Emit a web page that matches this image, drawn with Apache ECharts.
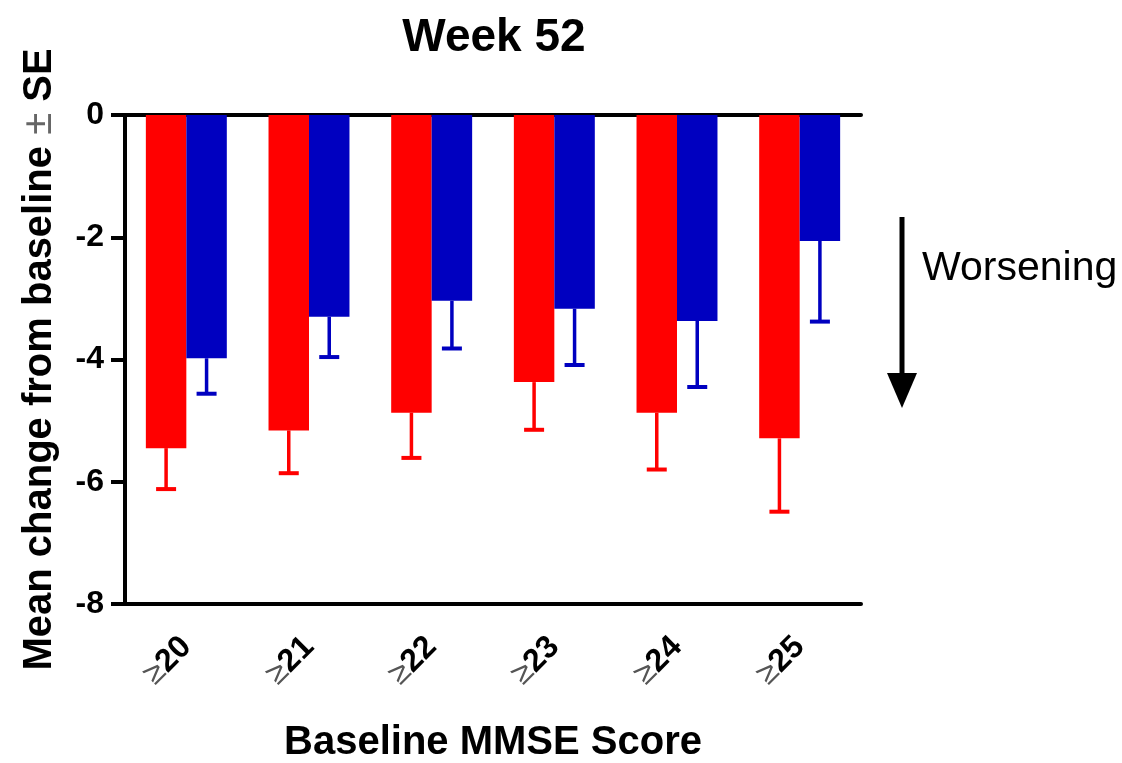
<!DOCTYPE html>
<html><head><meta charset="utf-8">
<script src="https://cdn.jsdelivr.net/npm/echarts@6/dist/echarts.min.js"></script>
<style>html,body{margin:0;padding:0;background:#fff}#c{width:1122px;height:763px}</style>
</head><body><div id="c"></div>
<script>
const categories = ['20','21','22','23','24','25'];
const redMean = [-5.45,-5.16,-4.87,-4.37,-4.87,-5.29];
const redLow  = [-6.12,-5.86,-5.61,-5.15,-5.80,-6.49];
const blueMean = [-3.98,-3.30,-3.04,-3.17,-3.37,-2.06];
const blueLow  = [-4.56,-3.96,-3.82,-4.09,-4.45,-3.38];
const yTicks = [0,-2,-4,-6,-8];

const RED = '#ff0000', BLUE = '#0000c0';
const GAP = 0.34; // barCategoryGap fraction
const FONT = 'Liberation Sans, Arial, sans-serif';

function errSeries(mean, low, color, side){
  return {
    type:'custom', z:3,
    data: mean.map((m,i)=>[i,m,low[i]]),
    renderItem(params, api){
      const i = api.value(0);
      const band = api.size([1,0])[0];
      const bw = band*(1-GAP)/2;
      const top = api.coord([i, api.value(1)]);
      const bot = api.coord([i, api.value(2)]);
      const x = top[0] + side*bw/2;
      return {type:'group', children:[
        {type:'line', shape:{x1:x,y1:top[1],x2:x,y2:bot[1]}, style:{stroke:color,lineWidth:3.5}},
        {type:'line', shape:{x1:x-10,y1:bot[1],x2:x+10,y2:bot[1]}, style:{stroke:color,lineWidth:4}}
      ]};
    }
  };
}

const chart = echarts.init(document.getElementById('c'), null, {renderer:'canvas'});
chart.setOption({
  animation:false,
  backgroundColor:'#fff',
  title:{text:'Week 52', left:489, top:10, textAlign:'center',
    textStyle:{fontFamily:FONT, fontWeight:'bold', fontSize:46, color:'#000'}},
  grid:{left:125, right:261, top:115, bottom:159, outerBoundsMode:'none', containLabel:false},
  xAxis:[{
    type:'category', data:categories, position:'bottom',
    axisLine:{onZero:false, lineStyle:{color:'#000', width:4}},
    axisTick:{alignWithLabel:true, length:15, lineStyle:{width:4,color:'#000'}},
    axisLabel:{rotate:45, interval:0, margin:38,
      formatter:v=>'{g|≥}{n|'+v+'}',
      rich:{
        g:{fontSize:32, fontWeight:'normal', color:'#555', fontFamily:FONT},
        n:{fontSize:32, fontWeight:'bold', color:'#000', fontFamily:FONT}
      }},
    name:'Baseline MMSE Score', nameLocation:'middle', nameGap:119,
    nameTextStyle:{fontSize:40, fontWeight:'bold', color:'#000', fontFamily:FONT}
  },{
    type:'category', data:categories, position:'top',
    axisLine:{onZero:false, lineStyle:{color:'#000', width:4}},
    axisTick:{show:false}, axisLabel:{show:false}
  }],
  yAxis:{
    type:'value', min:-8, max:0, interval:2,
    axisLine:{show:true, lineStyle:{color:'#000', width:4}},
    axisTick:{show:true, length:14, lineStyle:{width:4,color:'#000'}},
    splitLine:{show:false},
    axisLabel:{fontSize:32, fontWeight:'bold', color:'#000', margin:21, fontFamily:FONT,
      formatter:v=> yTicks.includes(v) ? String(v) : ''},
    name:'{b|Mean change from baseline }{g|±}{b| SE}', nameLocation:'middle', nameGap:65, nameRotate:90,
    nameTextStyle:{fontSize:40, fontWeight:'bold', color:'#000', fontFamily:FONT,
      rich:{
        b:{fontSize:40, fontWeight:'bold', color:'#000', fontFamily:FONT},
        g:{fontSize:40, fontWeight:'normal', color:'#666', fontFamily:FONT}
      }}
  },
  series:[
    {type:'bar', data:redMean, itemStyle:{color:RED}, barGap:'0%', barCategoryGap:(GAP*100)+'%'},
    {type:'bar', data:blueMean, itemStyle:{color:BLUE}, barGap:'0%', barCategoryGap:(GAP*100)+'%'},
    errSeries(redMean, redLow, RED, -1),
    errSeries(blueMean, blueLow, BLUE, 1)
  ],
  graphic:[
    {type:'line', shape:{x1:902,y1:217,x2:902,y2:378}, style:{stroke:'#000', lineWidth:5}},
    {type:'polygon', shape:{points:[[887,373],[917,373],[902,408]]}, style:{fill:'#000'}},
    {type:'text', left:922, top:248, style:{text:'Worsening', fontSize:41, fill:'#000', fontFamily:FONT}}
  ]
});
</script></body></html>
